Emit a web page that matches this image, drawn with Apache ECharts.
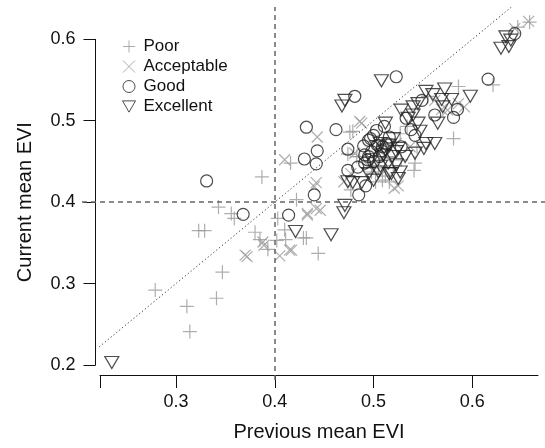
<!DOCTYPE html>
<html><head><meta charset="utf-8">
<script src="https://cdn.jsdelivr.net/npm/echarts@6/dist/echarts.min.js"></script>
<style>html,body{margin:0;padding:0;background:#fff}#c{width:545px;height:448px}</style>
</head><body><div id="c"></div>
<script>
// Previous mean EVI (x), Current mean EVI (y)
const poor = [[0.279,0.292],[0.311,0.272],[0.314,0.241],[0.341,0.282],[0.347,0.314],[0.323,0.365],[0.329,0.365],
 [0.343,0.394],[0.356,0.386],[0.359,0.380],[0.387,0.431],[0.380,0.363],[0.385,0.354],[0.393,0.342],[0.403,0.380],
 [0.410,0.366],[0.411,0.354],[0.422,0.403],[0.432,0.356],[0.444,0.337],[0.416,0.448],[0.474,0.459],[0.479,0.487],
 [0.483,0.456],[0.477,0.415],[0.541,0.439],[0.581,0.478],[0.586,0.542],[0.621,0.544],[0.646,0.615],[0.658,0.621],
 [0.509,0.427],[0.527,0.484],[0.534,0.493],[0.476,0.486],[0.542,0.448],[0.486,0.456],[0.502,0.425],[0.516,0.425],
 [0.528,0.452],[0.544,0.468],[0.555,0.530],[0.402,0.353],[0.429,0.356],[0.505,0.442],[0.512,0.432],[0.498,0.437],
 [0.520,0.445]];
const acceptable = [[0.370,0.335],[0.372,0.333],[0.388,0.351],[0.389,0.347],[0.405,0.334],[0.417,0.341],[0.410,0.452],
 [0.433,0.386],[0.442,0.392],[0.446,0.390],[0.440,0.419],[0.442,0.424],[0.443,0.480],[0.486,0.499],[0.488,0.497],
 [0.521,0.417],[0.470,0.425],[0.495,0.444],[0.643,0.613],[0.657,0.622],[0.592,0.517],[0.562,0.525],[0.481,0.460],
 [0.512,0.456],[0.537,0.468],[0.523,0.472],[0.575,0.513],[0.477,0.435],[0.512,0.439],[0.569,0.514],[0.586,0.521],
 [0.415,0.341],[0.433,0.384],[0.500,0.440],[0.508,0.452],[0.525,0.420]];
const good = [[0.331,0.426],[0.368,0.385],[0.414,0.384],[0.440,0.409],[0.430,0.453],[0.442,0.447],[0.443,0.463],
 [0.432,0.492],[0.462,0.489],[0.481,0.530],[0.474,0.465],[0.474,0.439],[0.523,0.554],[0.485,0.409],[0.492,0.420],
 [0.484,0.443],[0.490,0.469],[0.495,0.476],[0.500,0.482],[0.504,0.470],[0.509,0.468],[0.511,0.493],[0.516,0.480],
 [0.495,0.456],[0.491,0.448],[0.528,0.468],[0.538,0.489],[0.542,0.482],[0.549,0.525],[0.562,0.507],[0.581,0.504],
 [0.585,0.514],[0.616,0.551],[0.643,0.607],[0.533,0.503],[0.498,0.462],[0.506,0.456],[0.491,0.458],[0.497,0.478],
 [0.503,0.488],[0.508,0.463],[0.513,0.472],[0.494,0.452],[0.500,0.450]];
const excellent = [[0.235,0.203],[0.421,0.364],[0.457,0.360],[0.470,0.387],[0.471,0.396],[0.468,0.518],[0.471,0.525],
 [0.474,0.425],[0.479,0.424],[0.508,0.549],[0.512,0.497],[0.488,0.424],[0.500,0.427],[0.516,0.435],[0.525,0.429],
 [0.528,0.513],[0.535,0.503],[0.540,0.507],[0.545,0.497],[0.542,0.460],[0.551,0.466],[0.540,0.517],[0.553,0.536],
 [0.560,0.532],[0.565,0.497],[0.569,0.526],[0.572,0.539],[0.579,0.526],[0.598,0.530],[0.553,0.472],[0.562,0.472],
 [0.523,0.446],[0.512,0.464],[0.519,0.456],[0.507,0.444],[0.495,0.435],[0.629,0.589],[0.637,0.591],[0.634,0.603],
 [0.639,0.599],[0.516,0.470],[0.507,0.472],[0.523,0.462],[0.532,0.456],[0.527,0.437],[0.518,0.435],[0.570,0.517],
 [0.545,0.521],[0.547,0.487],[0.503,0.468],[0.510,0.458],[0.515,0.448],[0.498,0.452],[0.505,0.437],[0.520,0.478],
 [0.525,0.466]];
const identityLine = [[0.2223,0.2223],[0.6405,0.6405]];
const refX = 0.4, refY = 0.4;
const xTicks = [0.3,0.4,0.5,0.6];
const yTicks = [0.2,0.3,0.4,0.5,0.6];

const FONT = "'Liberation Sans', Arial, Helvetica, sans-serif";
const GRAY = '#9a9a9a', BLACK = '#222';
const chart = echarts.init(document.getElementById('c'), null, {renderer:'canvas'});
const xMinAxis = 0.22305, xMaxAxis = 0.66651;
chart.setOption({
  animation:false,
  backgroundColor:'#fff',
  textStyle:{fontFamily:FONT},
  grid:[
    {left:82, right:0, top:7, bottom:68},
    {left:95.5, top:39.3, height:325.7, width:10},
    {left:100, width:438, top:300, bottom:73}
  ],
  legend:{
    left:117, top:33, orient:'vertical', itemWidth:13, itemHeight:12, itemGap:3,
    textStyle:{fontSize:17, color:'#111', fontFamily:FONT, padding:[0,0,0,3]},
    data:[
      {name:'Poor', itemStyle:{borderWidth:1}},
      {name:'Acceptable', itemStyle:{borderWidth:1}},
      {name:'Good', itemStyle:{borderWidth:1}},
      {name:'Excellent', itemStyle:{borderWidth:1}}
    ]
  },
  xAxis:[
    {gridIndex:0, type:'value', min:0.20483, max:0.6736, show:false},
    {gridIndex:1, type:'value', show:false},
    {gridIndex:2, type:'value', min:xMinAxis, max:xMaxAxis,
     axisLine:{show:true, lineStyle:{color:'#111', width:1}},
     axisTick:{show:true, length:13, customValues:[xMinAxis].concat(xTicks), lineStyle:{color:'#111', width:1}},
     axisLabel:{customValues:xTicks, fontSize:18, color:'#111', margin:18, fontFamily:FONT, formatter:v=>v.toFixed(1)},
     splitLine:{show:false},
     name:'Previous mean EVI', nameLocation:'middle', nameGap:47,
     nameTextStyle:{fontSize:20, color:'#111', fontFamily:FONT}}
  ],
  yAxis:[
    {gridIndex:0, type:'value', min:0.18158, max:0.63964, show:false},
    {gridIndex:1, type:'value', min:0.2, max:0.6, interval:0.1,
     axisLine:{show:true, lineStyle:{color:'#111', width:1}},
     axisTick:{show:true, length:12, lineStyle:{color:'#111', width:1}},
     axisLabel:{fontSize:18, color:'#111', margin:20, fontFamily:FONT, formatter:v=>v.toFixed(1)},
     splitLine:{show:false},
     name:'Current mean EVI', nameLocation:'middle', nameGap:60, nameRotate:90,
     nameTextStyle:{fontSize:20, color:'#111', fontFamily:FONT}},
    {gridIndex:2, type:'value', show:false}
  ],
  series:[
    {type:'line', xAxisIndex:0, yAxisIndex:0, data:identityLine, symbol:'none', silent:true,
     lineStyle:{color:'#333', width:1, type:[1.2,2.5]},
     markLine:{silent:true, symbol:'none', label:{show:false},
       lineStyle:{color:'#666', width:1.5, type:[5,4]},
       data:[{xAxis:refX},{yAxis:refY}]}},
    {name:'Poor', type:'scatter', xAxisIndex:0, yAxisIndex:0, data:poor,
     symbol:'path://M0,5L10,5M5,0L5,10', symbolSize:14,
     itemStyle:{color:'rgba(0,0,0,0)', borderColor:GRAY, borderWidth:1.2}},
    {name:'Acceptable', type:'scatter', xAxisIndex:0, yAxisIndex:0, data:acceptable,
     symbol:'path://M0,0L10,10M10,0L0,10', symbolSize:11,
     itemStyle:{color:'rgba(0,0,0,0)', borderColor:GRAY, borderWidth:1.2}},
    {name:'Good', type:'scatter', xAxisIndex:0, yAxisIndex:0, data:good,
     symbol:'circle', symbolSize:12,
     itemStyle:{color:'rgba(0,0,0,0)', borderColor:BLACK, borderWidth:1.2}},
    {name:'Excellent', type:'scatter', xAxisIndex:0, yAxisIndex:0, data:excellent,
     symbol:'path://M0,0L10,0L5,8.66Z', symbolSize:[14,12],
     itemStyle:{color:'rgba(0,0,0,0)', borderColor:BLACK, borderWidth:1.2}}
  ]
});
</script></body></html>
